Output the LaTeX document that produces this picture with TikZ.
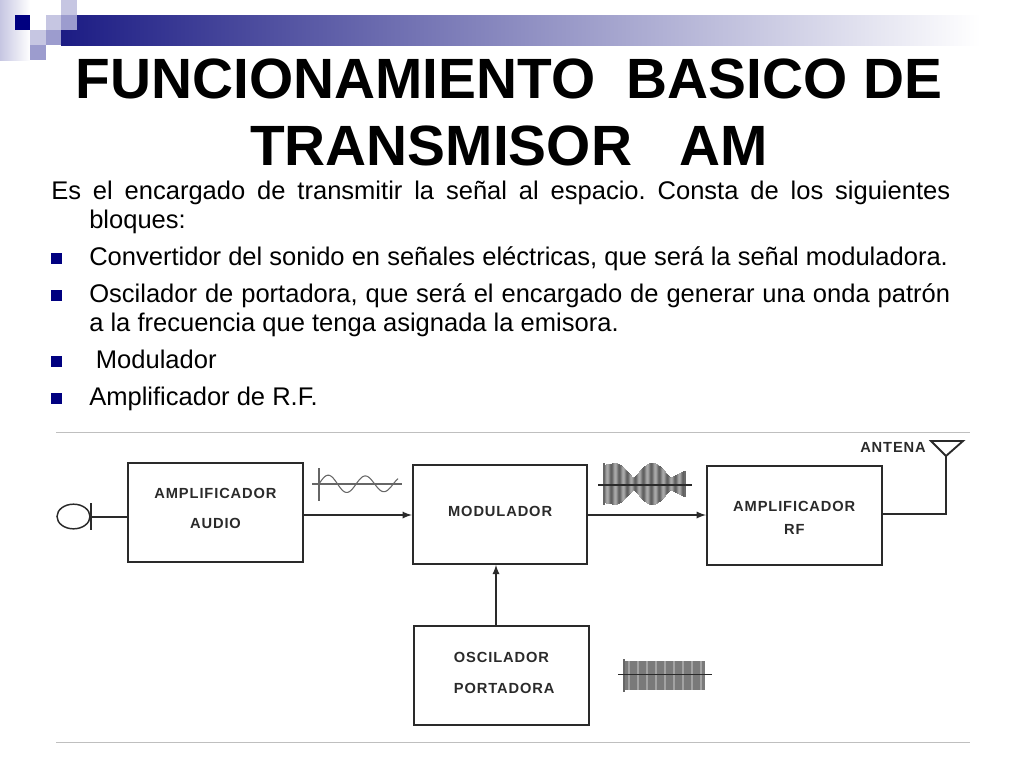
\documentclass[tikz,border=0pt]{standalone}
\usepackage{fontspec}
\setmainfont{Liberation Sans}
\usetikzlibrary{positioning,calc,shapes.geometric}
\definecolor{navy}{HTML}{000080}
\definecolor{barblue}{HTML}{1C1C84}
\definecolor{barmid}{HTML}{ABABC8}
\definecolor{sqlight}{HTML}{C6C6E2}
\definecolor{sqmid}{HTML}{9C9CCE}
\definecolor{ink}{HTML}{2A2A2A}
\newcommand{\bulletitem}{\noindent\hangindent=28.5pt\hangafter=1\rlap{\textcolor{navy}{\rule[1.5pt]{8pt}{8pt}}}\hspace*{28.5pt}\ignorespaces}
\begin{document}
\begin{tikzpicture}[x=0.75pt,y=-0.75pt]
    \tikzstyle{block}=[draw=ink, line width=1.5pt, minimum width=4.6cm, minimum height=2.6cm]
    \tikzstyle{blocktext}=[text=ink, font=\fontsize{11}{13}\bfseries\addfontfeature{LetterSpace=6}, align=center]
    \tikzstyle{wire}=[draw=ink, line width=1.4pt]
    \tikzstyle{feed}=[wire, -latex]
    \tikzstyle{rule}=[draw=black!25, line width=0.7pt]
    \tikzstyle{trace}=[draw=black!60, line width=0.8pt]
    \tikzstyle{headbar}=[left color=barblue, middle color=barmid, right color=white]
    \useasboundingbox (0,0) rectangle (1024,768);

    % header
    \fill[headbar] (61,15) rectangle (980,45);
    \fill[left color=sqlight, right color=white] (0,0) rectangle (30,60);
    \fill[white] (30,0) rectangle (61,30);
    \fill[navy] (15,15) rectangle (30,30);
    \fill[sqlight] (46,15) rectangle (61,30);
    \fill[sqmid] (61,15) rectangle (77,30);
    \fill[sqlight] (61,0) rectangle (77,15);
    \fill[sqlight] (30,30) rectangle (46,45);
    \fill[sqmid] (46,30) rectangle (61,45);
    \fill[sqmid] (30,45) rectangle (46,60);

    \node (Title) [font=\fontsize{42.6}{50.3}\bfseries, align=center] at (509,112) {FUNCIONAMIENTO\ \ BASICO DE\\TRANSMISOR\ \ \ AM};
    \node (Body) [anchor=north west, text width=674.25pt, inner sep=0pt, align=justify, font=\fontsize{19.15}{21.75}\selectfont] at (51,181) {%
        \setlength{\parskip}{6pt}\tolerance=10000\hyphenpenalty=10000\frenchspacing
        \noindent\hangindent=28.5pt\hangafter=1 Es el encargado de transmitir la señal al espacio. Consta de los siguientes bloques:\par
        \bulletitem Convertidor del sonido en señales eléctricas, que será la señal moduladora.\par
        \bulletitem Oscilador de portadora, que será el encargado de generar una onda patrón a la frecuencia que tenga asignada la emisora.\par
        \bulletitem \kern5pt Modulador\par
        \bulletitem Amplificador de R.F.\par};

    \coordinate (RuleTopL) at (56,432.5);
    \coordinate (RuleTopR) at (970,432.5);
    \coordinate (RuleBotL) at (56,742);
    \coordinate (RuleBotR) at (970,742);
    \draw [rule] (RuleTopL) -- (RuleTopR);
    \draw [rule] (RuleBotL) -- (RuleBotR);

    % blocks
    \node (Audio) [block] at (215.5,512.5) {};
    \node (Mod) [block, right= 2.85cm of Audio, yshift=-1.5pt] {};
    \node (RFamp) [block, right= 3.1cm of Mod, yshift=-0.7pt] {};
    \node (Osc) [block, below= 1.59cm of Mod, xshift=1pt] {};
    \node (AudioText) [blocktext, below= 0.57cm of Audio.north] {AMPLIFICADOR\\[9pt]AUDIO};
    \node (ModText) [blocktext, below= 0.98cm of Mod.north] {MODULADOR};
    \node (RFampText) [blocktext, below= 0.84cm of RFamp.north] {AMPLIFICADOR\\[4pt]RF};
    \node (OscText) [blocktext, below= 0.59cm of Osc.north, xshift=2pt, align=left] {OSCILADOR\\[10.5pt]PORTADORA};

    % microphone
    \node (Mic) [draw=ink, line width=1.1pt, ellipse, minimum width=0.87cm, minimum height=0.65cm, inner sep=0pt] at (73.5,516.5) {};
    \coordinate (MicPlate) at (91,517);
    \draw [wire] ($(MicPlate)+(0,-14)$) -- ($(MicPlate)+(0,13)$);
    \draw [wire] (MicPlate) -- (Audio.west |- MicPlate);

    % connectors
    \draw [feed] (Audio.east |- 0,515) -- (Mod.west |- 0,515);
    \draw [feed] (Mod.east |- 0,515) -- (RFamp.west |- 0,515);
    \draw [feed] (Osc.north -| 496,0) -- (Mod.south -| 496,0);

    % antenna
    \coordinate (AntFoot) at (946,514);
    \coordinate (AntTop) at (946,456);
    \draw [wire] (RFamp.east |- AntFoot) -- (AntFoot) -- (AntTop);
    \draw [wire] (AntTop) -- (931,441) -- (963,441) -- cycle;
    \node (AntText) [blocktext] at (893,447) {ANTENA};

    % audio wave
    \draw [trace] (312,484) -- (402,484);
    \draw [trace] (319,468) -- (319,501);
    \draw [trace, domain=319:398, samples=80, smooth] plot (\x,{484-(9-0.02*(\x-319))*sin(9.7*(\x-319))});

    % AM wave
    \foreach \k in {0,...,81} {
        \pgfmathsetmacro{\xa}{604+\k}
        \pgfmathsetmacro{\ha}{\xa>670 ? 6+(\xa-670)*0.47 : (\xa<615 ? 19+(\xa-604)*0.18 : 6+15*(0.5+0.5*cos(9.6*(\xa-615)))^0.6)}
        \pgfmathsetmacro{\ga}{48+14*cos(45*\k)}
        \draw [draw=black!\ga, line width=0.85pt] (\xa,484-\ha) -- (\xa,484+\ha);
    }
    \draw [trace] (604,463) -- (604,505);
    \draw [trace, draw=ink] (598,485) -- (692,485);

    % carrier wave
    \fill [black!52] (624,661) rectangle (705,690);
    \foreach \k in {0,...,8} {
        \draw [draw=black!36, line width=2pt] (629+\k*9,661) -- (629+\k*9,690);
    }
    \draw [trace, line width=1.1pt] (624,659) -- (624,692);
    \draw [trace, draw=ink] (618,674.5) -- (712,674.5);
\end{tikzpicture}
\end{document}
